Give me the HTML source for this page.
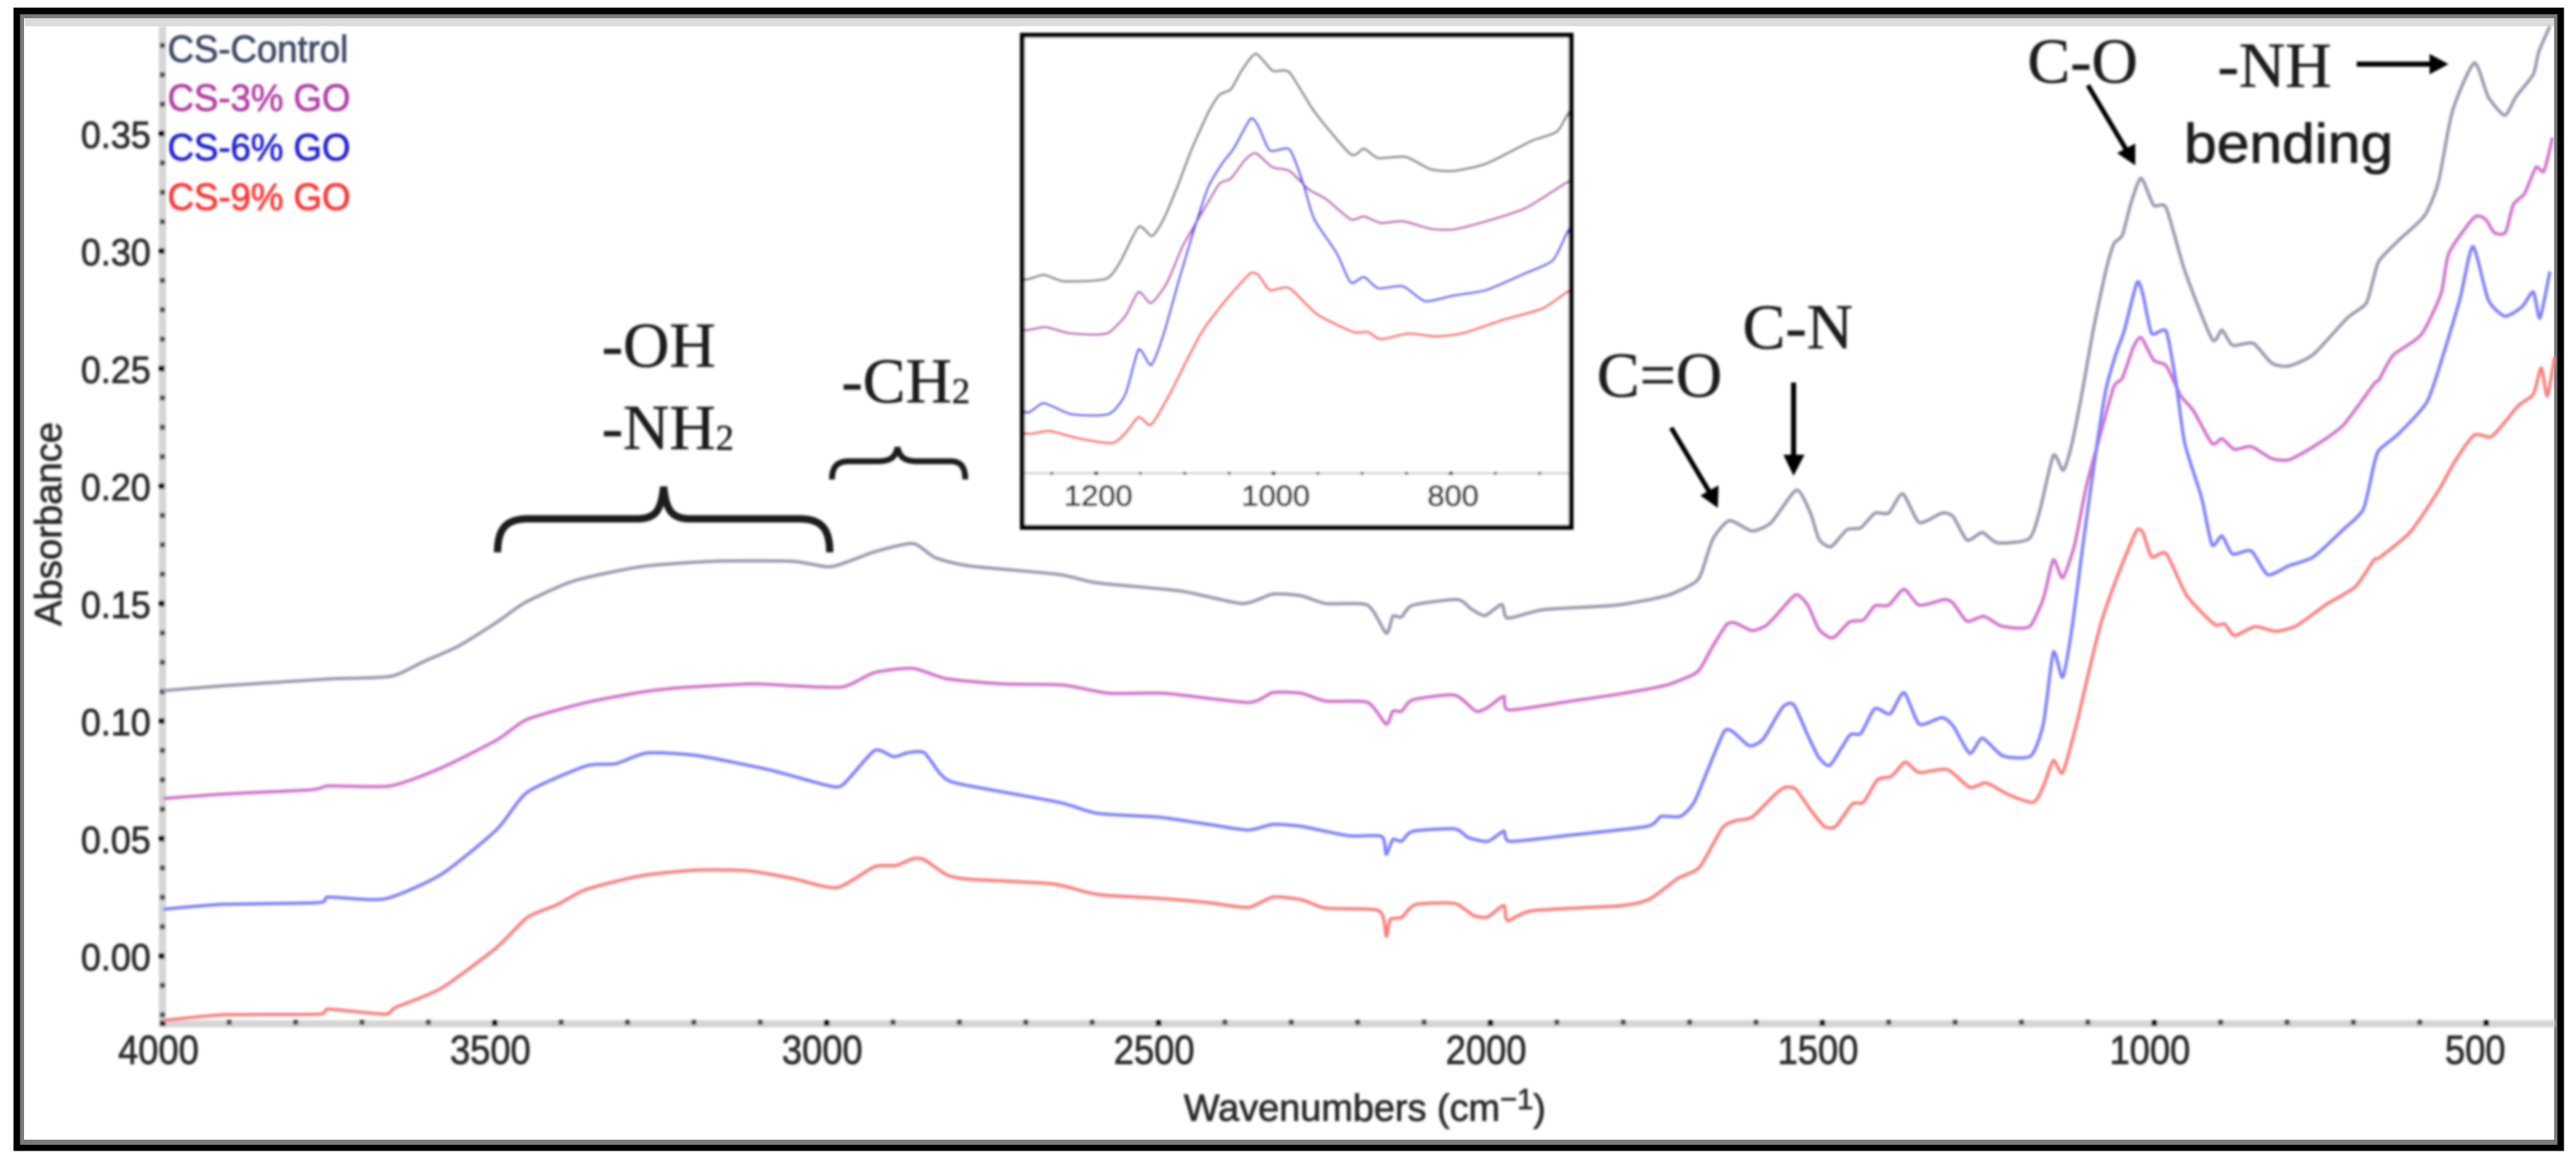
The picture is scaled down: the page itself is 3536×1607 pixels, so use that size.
<!DOCTYPE html>
<html lang="en">
<head>
<meta charset="utf-8">
<title>FTIR absorbance spectra of CS and CS-GO films</title>
<style>
html,body{margin:0;padding:0;background:#fff;}
svg{display:block;}
text{font-family:"Liberation Sans",sans-serif;}
.serif{font-family:"Liberation Serif",serif;fill:#1c1c1c;font-size:88px;stroke:#1c1c1c;stroke-width:.6px;}
.heavy{stroke-width:1px;}
</style>
</head>
<body>
<svg id="chart" xmlns="http://www.w3.org/2000/svg" width="3536" height="1607" viewBox="0 0 3536 1607">
  <defs>
    <filter id="soft" x="0" y="0" width="3536" height="1607" filterUnits="userSpaceOnUse"><feGaussianBlur stdDeviation="1.5"/></filter>
    <clipPath id="inset-clip"><rect x="1407" y="51" width="746" height="670"/></clipPath>
    <clipPath id="main-clip"><rect x="224" y="36" width="3284" height="1368"/></clipPath>
  </defs>
  <rect x="0" y="0" width="3536" height="1607" fill="#ffffff"/>

  <g>
    <rect x="34" y="25" width="3474" height="11" fill="#dcdcdc"/>
    <rect x="30" y="22" width="3479" height="1545" fill="none" stroke="#7a7a7a" stroke-width="6"/>
    <rect x="23" y="15" width="3492" height="1560" fill="none" stroke="#000000" stroke-width="9"/>
  </g>

  <g filter="url(#soft)">
    <g id="main-axes">
      <rect x="218" y="36" width="10" height="1374" fill="#d6d6d6"/>
      <rect x="218" y="1400" width="3289" height="10" fill="#d6d6d6"/>
    </g>
    <g id="main-series" clip-path="url(#main-clip)"></g>

    <g font-size="52">
      <text x="230" y="85" fill="#3e4a62" stroke="#3e4a62" stroke-width="1" textLength="248" lengthAdjust="spacingAndGlyphs">CS-Control</text>
      <text x="230" y="152" fill="#b040a4" stroke="#b040a4" stroke-width="1" textLength="251" lengthAdjust="spacingAndGlyphs">CS-3% GO</text>
      <text x="230" y="220" fill="#2424d4" stroke="#2424d4" stroke-width="1" textLength="251" lengthAdjust="spacingAndGlyphs">CS-6% GO</text>
      <text x="230" y="288" fill="#ff3434" stroke="#ff3434" stroke-width="1" textLength="251" lengthAdjust="spacingAndGlyphs">CS-9% GO</text>
    </g>

    <text transform="translate(84 859) rotate(-90)" font-size="52" fill="#2a2a2a" stroke="#2a2a2a" stroke-width="1" textLength="280" lengthAdjust="spacingAndGlyphs">Absorbance</text>
    <text x="1625" y="1538" font-size="52" fill="#2a2a2a" stroke="#2a2a2a" stroke-width="1" textLength="497" lengthAdjust="spacingAndGlyphs">Wavenumbers (cm<tspan dy="-16" font-size="40">−1</tspan><tspan dy="16">)</tspan></text>

    <g>
      <text class="serif" x="826" y="503">-OH</text>
      <text class="serif" x="826" y="616">-NH<tspan font-size="50" dy="1">2</tspan></text>
      <path d="M683 758C683 725 695 712 725 712L875 712C900 712 908 700 911 668C914 700 922 712 947 712L1097 712C1127 712 1139 725 1139 758" fill="none" stroke="#1a1a1a" stroke-width="10"/>
      <text class="serif" x="1155" y="552">-CH<tspan font-size="50" dy="1">2</tspan></text>
      <path d="M1142 658C1142 640 1150 633 1165 633L1205 633C1222 633 1229 628 1232 614C1235 628 1242 633 1259 633L1305 633C1318 633 1325 640 1325 658" fill="none" stroke="#1a1a1a" stroke-width="8"/>
      <text class="serif" x="2192" y="544">C=O</text>
      <line x1="2294" y1="587" x2="2347" y2="676" stroke="#000" stroke-width="6.5"/>
      <polygon points="2358,697 2334,680 2359,666" fill="#000"/>
      <text class="serif" x="2392" y="478">C-N</text>
      <line x1="2462" y1="525" x2="2462" y2="630" stroke="#000" stroke-width="7"/>
      <polygon points="2462,653 2448,624 2477,624" fill="#000"/>
      <text class="serif" x="2783" y="113">C-O</text>
      <line x1="2866" y1="117" x2="2919" y2="206" stroke="#000" stroke-width="6.5"/>
      <polygon points="2931,227 2906,210 2931,197" fill="#000"/>
      <text class="serif" x="3044" y="119">-NH</text>
      <line x1="3235" y1="88" x2="3340" y2="88" stroke="#000" stroke-width="7"/>
      <polygon points="3361,88 3335,74 3335,102" fill="#000"/>
      <text x="2998" y="223" font-size="76" fill="#1c1c1c" stroke="#1c1c1c" stroke-width="1" textLength="287" lengthAdjust="spacingAndGlyphs">bending</text>
    </g>

    <g id="inset">
      <rect x="1403.5" y="48.5" width="753" height="675" fill="#ffffff" stroke="#000000" stroke-width="7"/>
      <rect x="1407" y="648" width="746" height="3" fill="#d2d2d2"/>
      <g id="inset-series" clip-path="url(#inset-clip)"></g>
      <g id="inset-axis"></g>
    </g>
  </g>
</svg>

<script>
// Y axis and X axis tick values
const yTickLabels = ["0.00","0.05","0.10","0.15","0.20","0.25","0.30","0.35"];
const yMinorTicks = [-0.025,-0.0125,0.0125,0.025,0.0375,0.0625,0.075,0.0875,0.1125,0.125,0.1375,0.1625,0.175,0.1875,0.2125,0.225,0.2375,0.2625,0.275,0.2875,0.3125,0.325,0.3375,0.3625,0.375,0.3875];
const xTickLabels = ["4000","3500","3000","2500","2000","1500","1000","500"];
const xMinorTicks = [3900,3800,3700,3600,3400,3300,3200,3100,2900,2800,2700,2600,2400,2300,2200,2100,1900,1800,1700,1600,1400,1300,1200,1100,900,800,700,600];
const insetTickLabels = ["1200","1000","800"];
const insetMinorTicks = [1250,1150,1100,1050,950,900,850,750,700];

// CS-Control
const wnControl = [4000,3909,3750,3657,3607,3556,3497,3455,3380,3279,3170,3052,2993,2928,2870,2836,2785,2651,2592,2466,2374,2328,2285,2248,2185,2157,2147,2134,2117,2050,2029,2008,1983,1974,1920,1811,1735,1693,1682,1665,1640,1606,1577,1539,1518,1505,1487,1463,1442,1421,1400,1379,1354,1320,1303,1282,1259,1236,1189,1173,1152,1137,1124,1108,1092,1073,1061,1048,1036,1020,1001,982,954,913,898,882,851,823,797,760,710,681,669,661,631,593,572,551,518,497,472,455,429,421,404];
const absControl = [0.1129,0.115,0.1179,0.119,0.1253,0.1317,0.142,0.1503,0.1597,0.1657,0.168,0.168,0.1657,0.172,0.1755,0.1695,0.166,0.1624,0.1588,0.1553,0.15,0.154,0.1533,0.15,0.1493,0.1374,0.1446,0.1443,0.1493,0.1517,0.1477,0.1449,0.1496,0.1438,0.1474,0.1493,0.1533,0.1588,0.1632,0.1774,0.1853,0.1809,0.1845,0.1983,0.1885,0.1774,0.1742,0.1814,0.1822,0.1885,0.1885,0.1967,0.1845,0.1885,0.187,0.177,0.1802,0.1758,0.1775,0.1889,0.213,0.2067,0.2181,0.2409,0.2663,0.2916,0.303,0.3068,0.3195,0.331,0.3195,0.3183,0.2916,0.2625,0.2663,0.2599,0.2607,0.2523,0.2511,0.2561,0.2713,0.2777,0.2891,0.296,0.3048,0.315,0.3293,0.3593,0.38,0.3657,0.3578,0.3657,0.3752,0.3846,0.3957];

// CS-3% GO
const wn3 = [4000,3909,3775,3750,3657,3581,3497,3451,3363,3279,3220,3111,3052,2976,2928,2870,2819,2735,2643,2575,2491,2365,2328,2285,2248,2185,2157,2147,2134,2117,2054,2022,2004,1980,1972,1878,1802,1735,1693,1682,1665,1644,1631,1606,1585,1568,1540,1522,1505,1484,1459,1438,1421,1400,1377,1354,1316,1303,1282,1257,1232,1205,1186,1167,1152,1138,1120,1102,1080,1061,1048,1032,1020,1001,982,960,941,913,898,879,854,823,797,760,716,669,661,640,598,568,556,518,501,488,471,459,442,425,413,400];
const abs3 = [0.067,0.0689,0.0708,0.0724,0.0724,0.08,0.0919,0.1007,0.1078,0.1123,0.1142,0.1158,0.115,0.1145,0.1206,0.1224,0.118,0.1158,0.1153,0.1118,0.1118,0.1079,0.1121,0.1118,0.1085,0.1079,0.0987,0.1042,0.1042,0.109,0.111,0.1042,0.1058,0.1105,0.1047,0.1085,0.1117,0.1153,0.12,0.1232,0.1319,0.1411,0.1417,0.1385,0.1406,0.1454,0.1537,0.1493,0.139,0.1354,0.1422,0.143,0.149,0.1493,0.1561,0.1493,0.1517,0.1501,0.1425,0.1446,0.1406,0.1395,0.1407,0.1522,0.1686,0.161,0.175,0.2003,0.2232,0.2422,0.246,0.2587,0.2632,0.2536,0.2511,0.2384,0.232,0.2181,0.2201,0.2156,0.2168,0.2117,0.2112,0.2168,0.2257,0.2434,0.2454,0.2557,0.2644,0.2818,0.2992,0.3143,0.3135,0.3079,0.3079,0.3198,0.3245,0.3356,0.334,0.3483];

// CS-6% GO
const wn6 = [4000,3909,3766,3750,3666,3581,3497,3451,3363,3317,3271,3195,3086,3002,2976,2928,2899,2878,2853,2828,2802,2651,2592,2500,2424,2365,2328,2285,2214,2164,2157,2147,2134,2117,2054,2033,2004,1980,1970,1878,1764,1743,1714,1693,1672,1648,1635,1610,1589,1560,1543,1522,1505,1488,1459,1442,1421,1398,1377,1354,1320,1303,1278,1259,1228,1186,1167,1152,1138,1124,1105,1086,1073,1058,1045,1026,1017,1004,982,967,954,929,913,898,882,854,829,797,760,716,685,669,661,631,589,564,539,520,497,472,446,429,419,404];
const abs6 = [0.0199,0.022,0.0227,0.0251,0.0243,0.0347,0.0538,0.0697,0.0808,0.0819,0.0864,0.0853,0.0792,0.0728,0.0728,0.0874,0.0848,0.0865,0.0865,0.0773,0.0734,0.0655,0.0607,0.0591,0.056,0.0536,0.056,0.0552,0.0512,0.0509,0.0433,0.0496,0.0489,0.0531,0.0541,0.0504,0.0488,0.0531,0.0488,0.0515,0.0552,0.0594,0.0594,0.0655,0.0797,0.0955,0.0955,0.0895,0.0924,0.1058,0.1069,0.0939,0.0844,0.0813,0.0939,0.0947,0.1053,0.1031,0.1121,0.0987,0.1015,0.0979,0.0863,0.0927,0.0852,0.0852,0.0989,0.1293,0.1187,0.1395,0.1801,0.2181,0.2409,0.2561,0.2663,0.2866,0.2815,0.265,0.2658,0.2434,0.2181,0.1953,0.175,0.1788,0.1711,0.1724,0.1623,0.1661,0.1699,0.1813,0.1902,0.2092,0.2154,0.2225,0.2359,0.2565,0.2802,0.302,0.2794,0.2723,0.2763,0.2826,0.2715,0.2913];

// CS-9% GO
const wn9 = [4000,3909,3766,3750,3666,3649,3581,3497,3451,3405,3363,3279,3195,3119,3052,2985,2928,2895,2870,2853,2819,2785,2659,2592,2500,2424,2365,2328,2285,2248,2168,2157,2151,2134,2113,2054,2025,2004,1980,1974,1937,1802,1760,1718,1685,1651,1631,1606,1572,1556,1540,1518,1497,1480,1455,1438,1417,1396,1375,1354,1312,1278,1253,1219,1182,1167,1152,1138,1117,1098,1080,1058,1042,1026,1017,1004,982,951,910,894,879,848,816,785,741,697,669,661,614,572,547,518,493,472,451,429,417,408,397];
const abs9 = [-0.0274,-0.025,-0.0247,-0.0226,-0.0247,-0.0218,-0.0138,0.0037,0.0164,0.022,0.0283,0.0342,0.0366,0.0363,0.0331,0.0291,0.038,0.0386,0.0414,0.041,0.0346,0.0327,0.0307,0.0262,0.0246,0.0227,0.0207,0.0251,0.024,0.0204,0.0193,0.0085,0.0156,0.0164,0.0219,0.0224,0.0172,0.0167,0.0215,0.0151,0.0193,0.0215,0.0243,0.033,0.0378,0.0544,0.0576,0.0591,0.0686,0.0718,0.071,0.0623,0.0552,0.0552,0.0647,0.0655,0.075,0.0765,0.0825,0.0781,0.0794,0.0718,0.0737,0.0686,0.0655,0.0723,0.0832,0.0781,0.0989,0.1217,0.142,0.1598,0.1712,0.1813,0.1801,0.1699,0.1712,0.1534,0.1413,0.1413,0.1364,0.1402,0.1382,0.1407,0.1496,0.1572,0.1686,0.1695,0.1806,0.198,0.2106,0.2217,0.2209,0.2272,0.2344,0.2391,0.2502,0.2383,0.2549];

const SVGNS = "http://www.w3.org/2000/svg";

// Axis functions: main plot
function xMain(w){ return 223.5 + (4000 - w) * 0.9112; }
function yMain(v){ return 1312 - v * 3225; }
// Axis functions: inset plot
function xInset(w){ return 1504.6 + (1200 - w) * 1.2175; }
function yInset(v){ return 739.8 - v * 2012; }

function smoothPath(wn, ab, fx, fy){
  const p = wn.map(function(w, i){ return [fx(w), fy(ab[i])]; });
  let d = "M" + p[0][0].toFixed(1) + " " + p[0][1].toFixed(1);
  const k = 0.11;
  for (let i = 0; i < p.length - 1; i++){
    const a = p[Math.max(i - 1, 0)], b = p[i], c = p[i + 1], e = p[Math.min(i + 2, p.length - 1)];
    d += "C" + (b[0] + (c[0] - a[0]) * k).toFixed(1) + " " + (b[1] + (c[1] - a[1]) * k).toFixed(1) + " " +
         (c[0] - (e[0] - b[0]) * k).toFixed(1) + " " + (c[1] - (e[1] - b[1]) * k).toFixed(1) + " " +
         c[0].toFixed(1) + " " + c[1].toFixed(1);
  }
  return d;
}

function drawCurve(parent, name, wn, ab, fx, fy, color, width){
  const el = document.createElementNS(SVGNS, "path");
  el.setAttribute("d", smoothPath(wn, ab, fx, fy));
  el.setAttribute("fill", "none");
  el.setAttribute("stroke", color);
  el.setAttribute("stroke-width", width);
  el.setAttribute("stroke-linejoin", "round");
  
  
  parent.appendChild(el);
}

function drawDot(parent, name, cx, cy, size, color){
  const el = document.createElementNS(SVGNS, "rect");
  el.setAttribute("x", cx - size / 2);
  el.setAttribute("y", cy - size / 2);
  el.setAttribute("width", size);
  el.setAttribute("height", size);
  el.setAttribute("fill", color);
  
  
  parent.appendChild(el);
}

function drawLabel(parent, name, str, x, y, size, anchor, len){
  const el = document.createElementNS(SVGNS, "text");
  el.textContent = str;
  el.setAttribute("x", x);
  el.setAttribute("y", y);
  el.setAttribute("font-size", size);
  el.setAttribute("fill", "#2c2c2c");
  el.setAttribute("stroke", "#2c2c2c");
  el.setAttribute("stroke-width", "1");
  el.setAttribute("text-anchor", anchor);
  el.setAttribute("textLength", len);
  el.setAttribute("lengthAdjust", "spacingAndGlyphs");
  
  
  parent.appendChild(el);
}

const mainAxes = document.getElementById("main-axes");
const mainSeries = document.getElementById("main-series");
const insetSeries = document.getElementById("inset-series");
const insetAxis = document.getElementById("inset-axis");

yMinorTicks.forEach(function(v){ drawDot(mainAxes, "y-minor-tick", 223, yMain(v), 7, "#4a4a4a"); });
xMinorTicks.forEach(function(w){ drawDot(mainAxes, "x-minor-tick", xMain(w), 1403, 7, "#4a4a4a"); });
yTickLabels.forEach(function(t){
  const v = parseFloat(t);
  drawDot(mainAxes, "y-major-tick", 222, yMain(v), 8, "#000");
  drawLabel(mainAxes, "y-tick-label", t, 207, yMain(v) + 19.5, 52, "end", 96);
});
xTickLabels.forEach(function(t){
  const w = parseFloat(t);
  drawDot(mainAxes, "x-major-tick", xMain(w), 1404, 8, "#000");
  drawLabel(mainAxes, "x-tick-label", t, xMain(w) + (t.length === 3 ? -15 : -6), 1460, 56, "middle", 27.7 * t.length);
});

drawCurve(mainSeries, "series-cs-control", wnControl, absControl, xMain, yMain, "#9a9aae", 4.5);
drawCurve(mainSeries, "series-cs-3-percent-go", wn3, abs3, xMain, yMain, "#d274cc", 4.5);
drawCurve(mainSeries, "series-cs-6-percent-go", wn6, abs6, xMain, yMain, "#8080ff", 4.5);
drawCurve(mainSeries, "series-cs-9-percent-go", wn9, abs9, xMain, yMain, "#ff7e7e", 4.5);

drawCurve(insetSeries, "inset-series-cs-control", wnControl, absControl, xInset, yInset, "#7c7c86", 3.2);
drawCurve(insetSeries, "inset-series-cs-3-percent-go", wn3, abs3, xInset, yInset, "#bc58b4", 3.2);
drawCurve(insetSeries, "inset-series-cs-6-percent-go", wn6, abs6, xInset, yInset, "#4c4cf4", 3.2);
drawCurve(insetSeries, "inset-series-cs-9-percent-go", wn9, abs9, xInset, yInset, "#ff4c4c", 3.2);

insetMinorTicks.forEach(function(w){ drawDot(insetAxis, "inset-minor-tick", xInset(w), 649.5, 4, "#444"); });
insetTickLabels.forEach(function(t){
  const w = parseFloat(t);
  drawDot(insetAxis, "inset-major-tick", xInset(w), 649.5, 5, "#000");
  drawLabel(insetAxis, "inset-tick-label", t, xInset(w) + 3, 694, 40, "middle", 23.5 * t.length);
});
</script>
</body>
</html>
